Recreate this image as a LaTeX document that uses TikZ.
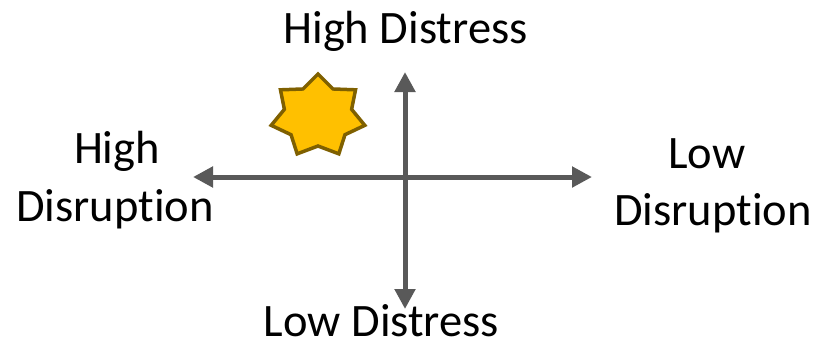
\documentclass[tikz,border=0pt]{standalone}
\usepackage{fontspec}
\setmainfont[Ligatures=NoCommon]{Carlito}
\usetikzlibrary{arrows.meta}
\definecolor{axisgray}{HTML}{595959}
\definecolor{starfill}{HTML}{FFC000}
\definecolor{stardraw}{HTML}{7F6000}
\tikzset{
  axis/.style={draw=axisgray,line width=5pt,{Triangle[length=20pt,width=20pt]}-{Triangle[length=20pt,width=20pt]}},
  lbl/.style={anchor=base,inner sep=0pt,font=\fontsize{46.5}{56}\selectfont,text=black},
  starstyle/.style={fill=starfill,draw=stardraw,line width=3.5pt}
}
\begin{document}
\begin{tikzpicture}[x=1pt,y=-1pt]
\useasboundingbox (0,0) rectangle (821,341);
\coordinate (L) at (193,177);
\coordinate (R) at (592,177);
\coordinate (T) at (405,72);
\coordinate (B) at (405,309);
\draw[axis] (L) -- (R);
\draw[axis] (T) -- (B);
\begin{scope}[shift={(318,116)},y=1pt]
\draw[starstyle] (90:48 and 42) \foreach \i in {1,...,13} { -- ({90+\i*360/14}:{48-13.5*mod(\i,2)} and {42-12*mod(\i,2)}) } -- cycle;
\end{scope}
\node[lbl] (hd) at (405.5,43) {High Distress};
\node[lbl] (ld) at (381.5,336) {Low Distress};
\node[lbl] (hd1) at (117,163) {High};
\node[lbl] (hd2) at (115,221) {Disruption};
\node[lbl] (ld1) at (707,168) {Low};
\node[lbl] (ld2) at (713,225) {Disruption};
\end{tikzpicture}
\end{document}
